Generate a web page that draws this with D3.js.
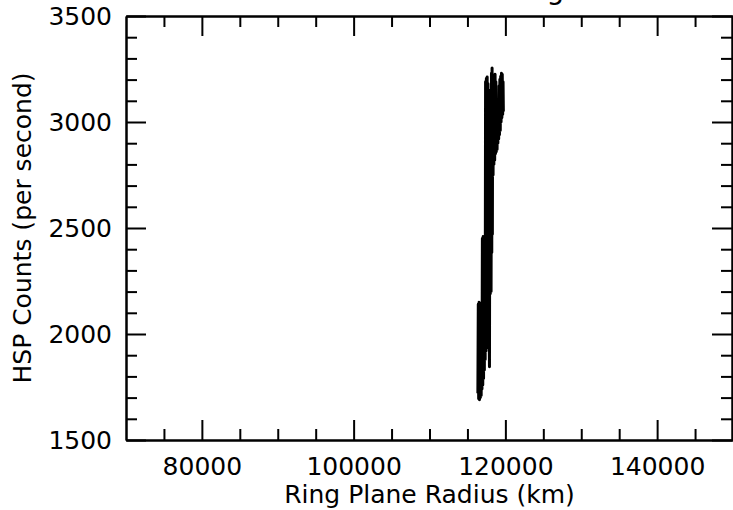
<!DOCTYPE html>
<html>
<head>
<meta charset="utf-8">
<script src="https://cdn.jsdelivr.net/npm/d3@7"></script>
<style>
  html, body { margin: 0; padding: 0; background: #fff; }
  svg { display: block; font-family: "DejaVu Sans", sans-serif; }
</style>
</head>
<body>
<svg id="chart" width="733" height="510"></svg>
<script>
// HSP count rate sampled across ring-plane radius (km, counts per second)
const radiusKm = [
  116375, 116430, 116480, 116535, 116585, 116640, 116705, 116760, 116810, 116865,
  116915, 116970, 117020, 117075, 117125, 117180, 117230, 117285, 117337, 117390,
  117443, 117495, 117548, 117600, 117653, 117706, 117759, 117812, 117864, 117904,
  117957, 118010, 118062, 118115, 118167, 118207, 118247, 118286, 118325, 118378,
  118431, 118484, 118536, 118589, 118642, 118694, 118747, 118800, 118852, 118905,
  118958, 119010, 119063, 119116, 119169, 119221, 119274, 119327, 119379, 119432,
  119485, 119537, 119590, 119643, 119695, 119735
];
const hspCounts = [
  1720, 2140, 1695, 2150, 1690, 2120, 1700, 2145, 1710, 2100,
  1740, 2450, 1760, 2460, 1790, 2440, 1830, 2455, 1880, 3190,
  1920, 3205, 1935, 3212, 1950, 3180, 1990, 3150, 2040, 1845,
  3060, 2190, 3100, 2200, 3230, 2385, 3255, 2470, 3200, 2750,
  3195, 2800, 3220, 2820, 3225, 2850, 3190, 2860, 3080, 2870,
  3050, 2900, 3100, 2920, 3170, 2940, 3200, 2960, 3215, 3000,
  3230, 3020, 3225, 3035, 3190, 3050
];

// Axis extents and tick positions
const xDomain = [70000, 150000];
const yDomain = [1500, 3500];
const xMajorTicks = [80000, 100000, 120000, 140000];
const xMinorTicks = [75000, 85000, 90000, 95000, 105000, 110000, 115000, 125000, 130000, 135000, 145000];
const yMajorTicks = [1500, 2000, 2500, 3000, 3500];
const yMinorTicks = [1600, 1700, 1800, 1900, 2100, 2200, 2300, 2400, 2600, 2700, 2800, 2900, 3100, 3200, 3300, 3400];

const titleText = "Occultation: B Ring";
const xLabel = "Ring Plane Radius (km)";
const yLabel = "HSP Counts (per second)";

const svg = d3.select("#chart");
const plotLeft = 126, plotRight = 733, plotTop = 16, plotBottom = 440;
const fontSize = 25;
const majorLen = 20, minorLen = 11;

const x = d3.scaleLinear().domain(xDomain).range([plotLeft, plotRight]);
const y = d3.scaleLinear().domain(yDomain).range([plotBottom, plotTop]);

// Data trace
const points = radiusKm.map((r, i) => [r, hspCounts[i]]);
const line = d3.line().x(d => x(d[0])).y(d => y(d[1]));
svg.append("path")
  .datum(points)
  .attr("d", line)
  .attr("fill", "none")
  .attr("stroke", "#000")
  .attr("stroke-width", 3)
  .attr("stroke-linejoin", "round");

function styleAxis(g, showLabels) {
  g.selectAll("path.domain").attr("stroke", "#000").attr("stroke-width", 2);
  g.selectAll(".tick line").attr("stroke", "#000").attr("stroke-width", 2);
  g.selectAll(".tick text")
    .attr("fill", "#000")
    .style("font-family", "'DejaVu Sans', sans-serif")
    .style("font-size", fontSize + "px");
  if (!showLabels) g.selectAll(".tick text").remove();
}

// Bottom axis: inward ticks, labels below
svg.append("g").attr("transform", `translate(0,${plotBottom})`)
  .call(d3.axisBottom(x).tickValues(xMinorTicks).tickSizeInner(-minorLen).tickSizeOuter(0).tickFormat(""))
  .call(g => styleAxis(g, false));
svg.append("g").attr("transform", `translate(0,${plotBottom})`)
  .call(d3.axisBottom(x).tickValues(xMajorTicks).tickSizeInner(-majorLen).tickSizeOuter(0).tickPadding(17).tickFormat(d3.format("d")))
  .call(g => styleAxis(g, true));

// Top axis
svg.append("g").attr("transform", `translate(0,${plotTop})`)
  .call(d3.axisTop(x).tickValues(xMinorTicks).tickSizeInner(-minorLen).tickSizeOuter(0).tickFormat(""))
  .call(g => styleAxis(g, false));
svg.append("g").attr("transform", `translate(0,${plotTop})`)
  .call(d3.axisTop(x).tickValues(xMajorTicks).tickSizeInner(-majorLen).tickSizeOuter(0).tickFormat(""))
  .call(g => styleAxis(g, false));

// Left axis: inward ticks, labels to the left
svg.append("g").attr("transform", `translate(${plotLeft},0)`)
  .call(d3.axisLeft(y).tickValues(yMinorTicks).tickSizeInner(-minorLen).tickSizeOuter(0).tickFormat(""))
  .call(g => styleAxis(g, false));
svg.append("g").attr("transform", `translate(${plotLeft},0)`)
  .call(d3.axisLeft(y).tickValues(yMajorTicks).tickSizeInner(-majorLen).tickSizeOuter(0).tickPadding(14).tickFormat(d3.format("d")))
  .call(g => styleAxis(g, true));

// Right axis
svg.append("g").attr("transform", `translate(${plotRight - 1},0)`)
  .call(d3.axisRight(y).tickValues(yMinorTicks).tickSizeInner(-minorLen).tickSizeOuter(0).tickFormat(""))
  .call(g => styleAxis(g, false));
svg.append("g").attr("transform", `translate(${plotRight - 1},0)`)
  .call(d3.axisRight(y).tickValues(yMajorTicks).tickSizeInner(-majorLen).tickSizeOuter(0).tickFormat(""))
  .call(g => styleAxis(g, false));

// Axis titles
svg.append("text")
  .attr("x", (plotLeft + plotRight) / 2)
  .attr("y", 503)
  .attr("text-anchor", "middle")
  .style("font-size", fontSize + "px")
  .text(xLabel);

svg.append("text")
  .attr("transform", `translate(31,${(plotTop + plotBottom) / 2}) rotate(-90)`)
  .attr("text-anchor", "middle")
  .style("font-size", fontSize + "px")
  .text(yLabel);

// Chart title, mostly above the visible area
svg.append("text")
  .attr("x", (plotLeft + plotRight) / 2)
  .attr("y", -1)
  .attr("text-anchor", "middle")
  .style("font-size", "28px")
  .text(titleText);
</script>
</body>
</html>
